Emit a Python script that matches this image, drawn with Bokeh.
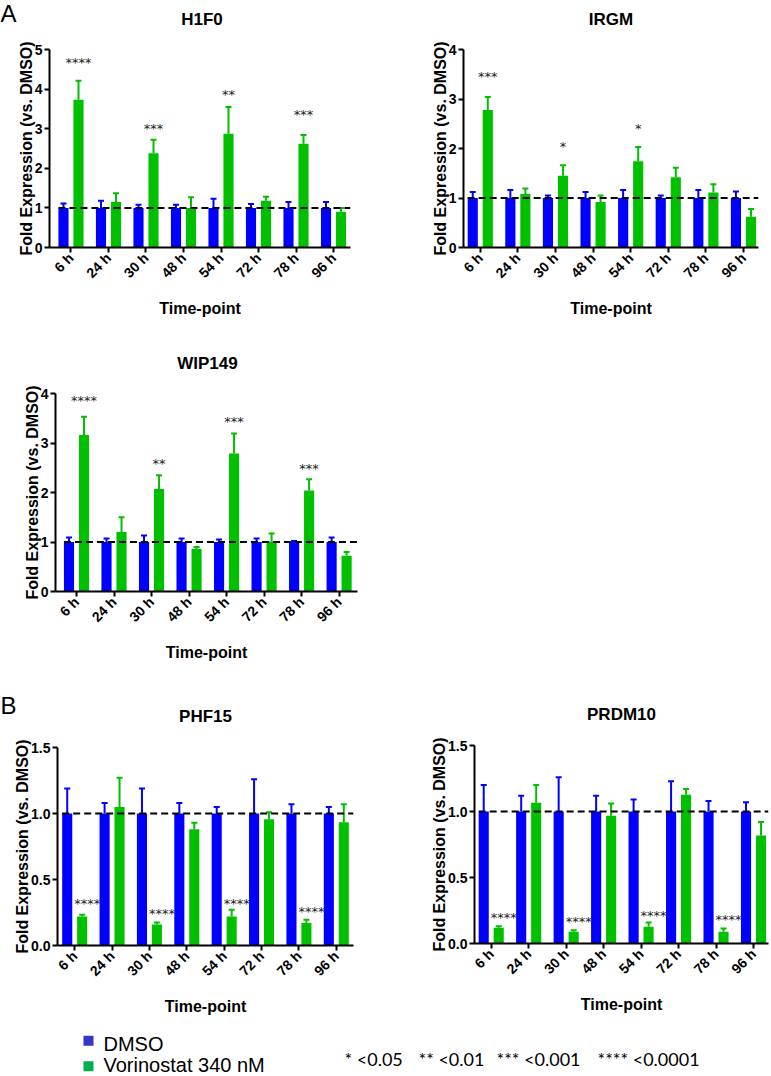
import math
from bokeh.plotting import figure
from bokeh.layouts import column, row
from bokeh.models import (Range1d, FixedTicker, Whisker, ColumnDataSource,
                          TeeHead, NumeralTickFormatter)
from bokeh.embed import file_html
from bokeh.resources import INLINE
from bokeh.core.properties import value

# ---------------- data ----------------
time_points = ["6 h", "24 h", "30 h", "48 h", "54 h", "72 h", "78 h", "96 h"]
groups = ["DMSO", "Vorinostat 340 nM"]
sig_legend = ["* <0.05", "** <0.01", "*** <0.001", "**** <0.0001"]
panel_letters = ["A", "B"]
gene_titles = ["H1F0", "IRGM", "WIP149", "PHF15", "PRDM10"]

h1f0_dmso = [1.0, 1.0, 1.0, 1.0, 1.0, 1.0, 1.0, 1.0]
h1f0_dmso_err = [0.11, 0.18, 0.08, 0.08, 0.23, 0.10, 0.15, 0.15]
h1f0_vor = [3.73, 1.15, 2.38, 1.00, 2.87, 1.18, 2.62, 0.90]
h1f0_vor_err = [0.48, 0.22, 0.34, 0.27, 0.68, 0.10, 0.22, 0.10]
h1f0_sig_time = ["6 h", "30 h", "54 h", "78 h"]
h1f0_sig = ["****", "***", "**", "***"]
h1f0_sig_y = [4.69, 3.04, 3.89, 3.38]

irgm_dmso = [1.0, 1.0, 1.0, 1.0, 1.0, 1.0, 1.0, 1.0]
irgm_dmso_err = [0.12, 0.16, 0.05, 0.12, 0.16, 0.05, 0.16, 0.13]
irgm_vor = [2.78, 1.08, 1.45, 0.92, 1.74, 1.42, 1.11, 0.62]
irgm_vor_err = [0.26, 0.11, 0.21, 0.13, 0.29, 0.19, 0.17, 0.16]
irgm_sig_time = ["6 h", "30 h", "54 h"]
irgm_sig = ["***", "*", "*"]
irgm_sig_y = [3.48, 2.06, 2.43]

wip149_dmso = [1.0, 1.0, 1.0, 1.0, 1.0, 1.0, 1.0, 1.0]
wip149_dmso_err = [0.09, 0.07, 0.13, 0.07, 0.05, 0.07, 0.02, 0.09]
wip149_vor = [3.16, 1.20, 2.07, 0.86, 2.79, 1.01, 2.04, 0.72]
wip149_vor_err = [0.37, 0.30, 0.28, 0.04, 0.40, 0.16, 0.23, 0.08]
wip149_sig_time = ["6 h", "30 h", "54 h", "78 h"]
wip149_sig = ["****", "**", "***", "***"]
wip149_sig_y = [3.88, 2.60, 3.45, 2.50]

phf15_dmso = [1.0, 1.0, 1.0, 1.0, 1.0, 1.0, 1.0, 1.0]
phf15_dmso_err = [0.19, 0.08, 0.19, 0.08, 0.05, 0.26, 0.07, 0.05]
phf15_vor = [0.22, 1.05, 0.16, 0.88, 0.22, 0.956, 0.17, 0.934]
phf15_vor_err = [0.013, 0.22, 0.015, 0.05, 0.05, 0.054, 0.025, 0.136]
phf15_sig_time = ["6 h", "30 h", "54 h", "78 h"]
phf15_sig = ["****", "****", "****", "****"]
phf15_sig_y = [0.329, 0.248, 0.329, 0.266]

prdm10_dmso = [1.0, 1.0, 1.0, 1.0, 1.0, 1.0, 1.0, 1.0]
prdm10_dmso_err = [0.20, 0.12, 0.26, 0.12, 0.09, 0.23, 0.08, 0.07]
prdm10_vor = [0.12, 1.067, 0.089, 0.968, 0.127, 1.127, 0.089, 0.818]
prdm10_vor_err = [0.01, 0.133, 0.011, 0.092, 0.033, 0.043, 0.025, 0.102]
prdm10_sig_time = ["6 h", "30 h", "54 h", "78 h"]
prdm10_sig = ["****", "****", "****", "****"]
prdm10_sig_y = [0.203, 0.172, 0.223, 0.19]

# ---------------- style ----------------
BLUE = "#0000FF"
GREEN = "#00C000"
LEG_BLUE = "#3535C8"
LEG_GREEN = "#00B050"
FONT = "Liberation Sans"
STAR_FONT = "DejaVu Sans"
LEG_STAR_FONT = "Lato"
FRAME_H = 198
DODGE = 0.2
BAR_W = 0.27


def strip(width, height):
    f = figure(width=width, height=height, output_backend="svg", toolbar_location=None,
               x_range=Range1d(0, width), y_range=Range1d(height, 0),
               x_axis_type=None, y_axis_type=None, frame_align=False,
               min_border_left=0, min_border_right=0, min_border_top=0, min_border_bottom=0)
    f.outline_line_color = None
    f.xgrid.grid_line_color = None
    f.ygrid.grid_line_color = None
    return f


def head_text(f, xs, ys, texts, size, bold, align):
    f.text(x=xs, y=ys, text=texts, text_font=value(FONT), text_font_size=size,
           text_font_style="bold" if bold else "normal", text_align=align,
           text_baseline="middle", text_color="black")


def panel(dmso, dmso_err, vor, vor_err, sig_time, sig_text, sig_y,
          y_max, y_ticks, decimals, width, height, frame_w, b_left, b_top,
          x_start, x_end, star_dx=0):
    p = figure(width=width, height=height, output_backend="svg", toolbar_location=None,
               x_range=Range1d(x_start, x_end), y_range=Range1d(0, y_max),
               frame_align=False,
               min_border_left=b_left, min_border_top=b_top,
               min_border_right=width - b_left - frame_w,
               min_border_bottom=height - b_top - FRAME_H)
    p.outline_line_color = None
    p.xgrid.grid_line_color = None
    p.ygrid.grid_line_color = None

    xs = list(range(1, len(time_points) + 1))
    xb = [x - DODGE for x in xs]
    xg = [x + DODGE for x in xs]
    p.vbar(x=xb, top=dmso, bottom=0, width=BAR_W, fill_color=BLUE, line_color=None)
    p.vbar(x=xg, top=vor, bottom=0, width=BAR_W, fill_color=GREEN, line_color=None)

    for xx, m, e, col in ((xb, dmso, dmso_err, BLUE), (xg, vor, vor_err, GREEN)):
        src = ColumnDataSource(dict(x=xx, lo=m, hi=[a + b for a, b in zip(m, e)]))
        w = Whisker(base="x", lower="lo", upper="hi", source=src, line_color=col, line_width=2,
                    upper_head=TeeHead(size=6, line_color=col, line_width=2), lower_head=None)
        p.add_layout(w)

    p.line(x=[1 - DODGE - BAR_W / 2, x_end], y=[1, 1], line_color="black",
           line_width=2, line_dash="7 4")

    sx = [time_points.index(t) + 1 + DODGE for t in sig_time]
    p.text(x=sx, y=sig_y, text=sig_text, text_font=value(STAR_FONT), text_font_size="13px",
           text_align="center", text_baseline="middle", y_offset=1, x_offset=star_dx,
           text_color="#222222")

    p.xaxis.ticker = FixedTicker(ticks=xs)
    p.xaxis.major_label_overrides = {x: t for x, t in zip(xs, time_points)}
    p.xaxis.major_label_orientation = math.pi / 4
    p.yaxis.ticker = FixedTicker(ticks=y_ticks)
    p.yaxis.formatter = NumeralTickFormatter(format="0.0" if decimals else "0")
    p.xaxis.axis_label = "Time-point"
    p.yaxis.axis_label = "Fold Expression (vs. DMSO)"
    for ax in (p.xaxis[0], p.yaxis[0]):
        ax.axis_line_width = 2
        ax.axis_line_color = "black"
        ax.major_tick_line_width = 2
        ax.major_tick_line_color = "black"
        ax.major_tick_out = 5
        ax.major_tick_in = 0
        ax.minor_tick_line_color = None
        ax.major_label_text_font = FONT
        ax.major_label_text_font_style = "bold"
        ax.major_label_text_font_size = "14px"
        ax.major_label_text_color = "black"
        ax.axis_label_text_font = FONT
        ax.axis_label_text_font_style = "bold"
        ax.axis_label_text_font_size = "16px"
        ax.axis_label_text_color = "black"
    p.yaxis.major_label_standoff = 2
    p.yaxis.axis_label_standoff = -3
    p.xaxis.major_label_standoff = 3
    p.xaxis.axis_label_standoff = 10
    return p


# panel geometry: (figure width, figure height, frame width, border left, border top, x range)
G1 = (390, 310, 301, 49, 19, 0.427, 8.453)
G2 = (381, 310, 295, 73, 19, 0.554, 8.40)
G3 = (390, 318, 302, 55, 21, 0.44, 8.49)
G4 = (390, 300, 296, 57, 22, 0.54, 8.46)
G5 = (381, 300, 294, 84, 20, 0.554, 8.40)

p1 = panel(h1f0_dmso, h1f0_dmso_err, h1f0_vor, h1f0_vor_err,
           h1f0_sig_time, h1f0_sig, h1f0_sig_y, 5, [0, 1, 2, 3, 4, 5], False, *G1)
p2 = panel(irgm_dmso, irgm_dmso_err, irgm_vor, irgm_vor_err,
           irgm_sig_time, irgm_sig, irgm_sig_y, 4, [0, 1, 2, 3, 4], False, *G2)
p3 = panel(wip149_dmso, wip149_dmso_err, wip149_vor, wip149_vor_err,
           wip149_sig_time, wip149_sig, wip149_sig_y, 4, [0, 1, 2, 3, 4], False, *G3)
p4 = panel(phf15_dmso, phf15_dmso_err, phf15_vor, phf15_vor_err,
           phf15_sig_time, phf15_sig, phf15_sig_y, 1.5, [0, 0.5, 1.0, 1.5], True, *G4,
           star_dx=5)
p5 = panel(prdm10_dmso, prdm10_dmso_err, prdm10_vor, prdm10_vor_err,
           prdm10_sig_time, prdm10_sig, prdm10_sig_y, 1.5, [0, 0.5, 1.0, 1.5], True, *G5,
           star_dx=5)


def frame_center(offset, g):
    return offset + g[3] + g[2] / 2


# ---------------- headers (panel letters and gene titles) ----------------
h1 = strip(771, 30)
head_text(h1, [0], [13.4], [panel_letters[0]], "24px", False, "left")
head_text(h1, [frame_center(0, G1) + 2, frame_center(390, G2)], [19, 19],
          gene_titles[0:2], "17px", True, "center")

h2 = strip(390, 32)
head_text(h2, [frame_center(0, G3) + 1], [23.3], gene_titles[2:3], "17px", True, "center")

h3 = strip(771, 35)
head_text(h3, [0], [15], [panel_letters[1]], "24px", False, "left")
head_text(h3, [frame_center(0, G4), frame_center(390, G5)], [26.3, 24],
          gene_titles[3:5], "17px", True, "center")

# ---------------- legend strip ----------------
leg = strip(771, 51)
leg.scatter(x=[88, 88], y=[15.3, 40.8], marker="square", size=10,
            fill_color=[LEG_BLUE, LEG_GREEN], line_color=None)
leg.text(x=[103, 103], y=[18.2, 39.5], text=groups, text_font=value(FONT),
         text_font_size="20px", text_align="left", text_baseline="middle", text_color="black")
leg.text(x=[344, 418, 496, 597], y=[33, 33, 33, 33], text=sig_legend,
         text_font=value(LEG_STAR_FONT), text_font_size="18px",
         text_align="left", text_baseline="middle", text_color="black")

layout = column(h1, row(p1, p2), h2, p3, h3, row(p4, p5), leg)
open("out.html", "w").write(file_html(layout, INLINE))
